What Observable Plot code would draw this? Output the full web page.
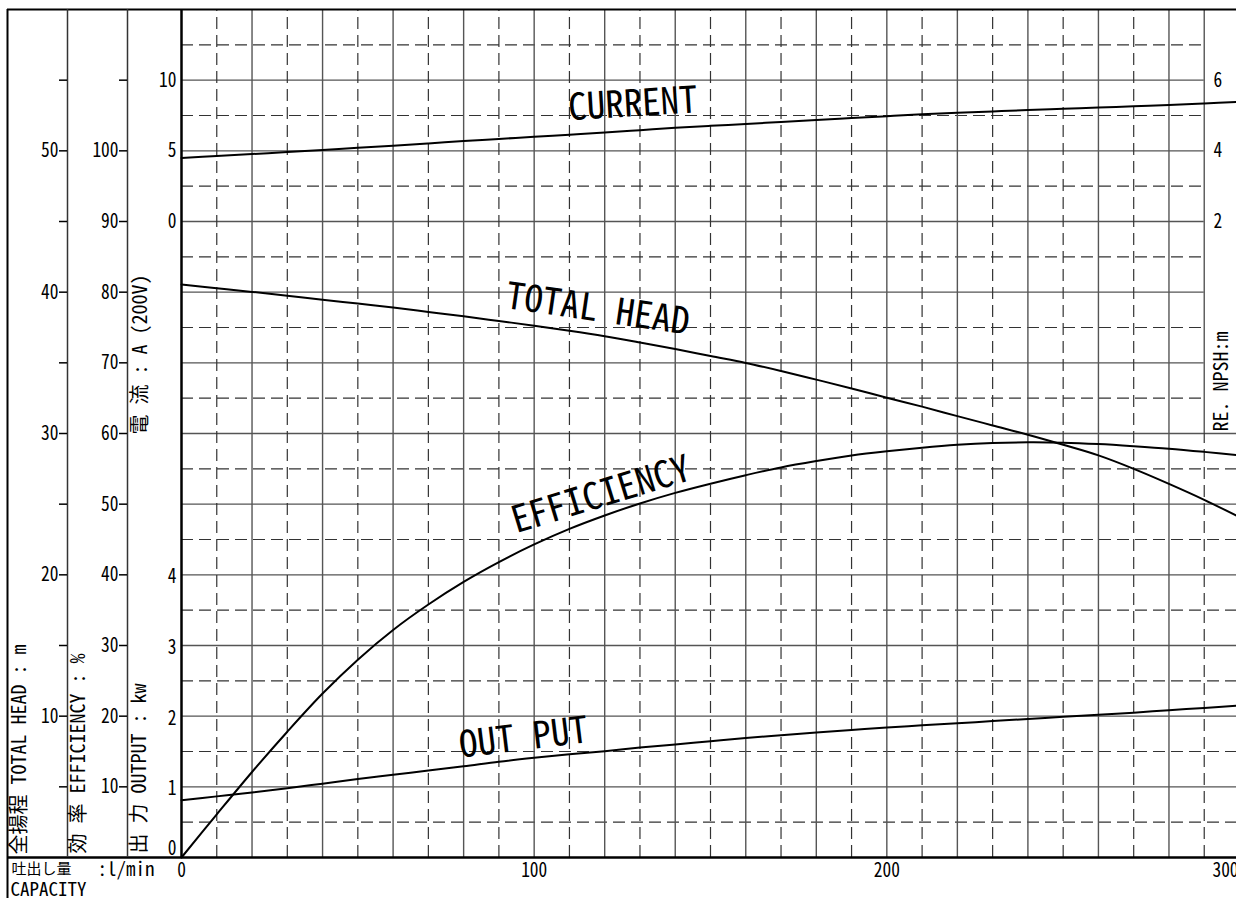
<!DOCTYPE html>
<html><head><meta charset="utf-8">
<script src="https://cdn.jsdelivr.net/npm/d3@7"></script>
<script src="https://cdn.jsdelivr.net/npm/@observablehq/plot@0.6"></script>
<style>
html,body{margin:0;padding:0;background:#fff;overflow:hidden;width:1236px;height:898px;}
#chart{width:1236px;height:898px;overflow:hidden;position:relative;}
</style></head><body><div id="chart"></div>
<script>
// ---------- data ----------
const capacity   = [0,10,20,30,40,50,60,70,80,90,100,110,120,130,140,150,160,170,180,190,200,210,220,230,240,250,260,270,280,290,300];
const totalHead  = [40.54,40.28,40.02,39.74,39.47,39.19,38.91,38.60,38.29,37.96,37.63,37.27,36.88,36.44,35.98,35.48,34.99,34.42,33.81,33.19,32.53,31.90,31.23,30.57,29.91,29.20,28.45,27.50,26.44,25.31,24.08];
const efficiency = [0,6.1,12.1,17.8,23.2,28.0,32.2,35.8,39.0,41.8,44.3,46.5,48.4,50.1,51.6,52.9,54.1,55.2,56.1,56.9,57.5,58.0,58.4,58.65,58.75,58.7,58.5,58.2,57.85,57.4,56.9];
const outputKw   = [0.81,0.865,0.92,0.98,1.045,1.11,1.17,1.23,1.29,1.355,1.41,1.46,1.505,1.555,1.60,1.645,1.69,1.73,1.77,1.805,1.84,1.87,1.90,1.93,1.96,1.99,2.02,2.05,2.085,2.115,2.15];
const currentA   = [4.49,4.63,4.77,4.91,5.06,5.22,5.36,5.52,5.69,5.84,6.0,6.14,6.29,6.46,6.63,6.77,6.9,7.04,7.18,7.32,7.45,7.58,7.69,7.79,7.89,7.97,8.06,8.15,8.24,8.35,8.47];

const headTicks       = [10,20,30,40,50];
const efficiencyTicks = [10,20,30,40,50,60,70,80,90,100];
const outputTicks     = [0,1,2,3,4];
const currentTicks    = [0,5,10];
const npshTicks       = [2,4,6];
const capacityTicks   = [0,100,200,300];

const curveLabelText     = ["CURRENT","TOTAL HEAD","EFFICIENCY","OUT PUT"];
const curveLabelCapacity = [128,118,119,97];
const curveLabelValue    = [8.28,38.77,51.3,1.69];
const curveLabelUnit     = ["cur","head","eff","out"];

const axisTitleText = ["全揚程 TOTAL HEAD : m","効 率 EFFICIENCY : %","出 力 OUTPUT : kw","電 流 : A (200V)","RE. NPSH:m"];
const capacityTitle = ["吐出し量",":l/min","CAPACITY"];

// ---------- layout ----------
const W = 1240, H = 898, ML = 181, MR = 1, MT = 9, MB = 41;
const FONT = '"Noto Sans Mono CJK JP","Noto Sans CJK JP",monospace';
const px2q = px => (px - ML) / (W - ML - MR) * 300;
const py2h = py => (H - MB - py) / (H - MB - MT) * 60;
// every series is drawn on the head (m) scale of the shared y axis
const toY = {head: v => v, eff: v => v / 2, out: v => v * 5, cur: v => 45 + v, npsh: v => 40 + 2.5 * v};
const labelAngle = [-3.5, 8.3, -17, -7];

const series = (vals, f) => capacity.map((q, i) => ({q, v: f(vals[i])}));

const solidH = d3.range(5, 56, 5).map(h => ({y: h, x1: 0, x2: h > 30 ? 290 : 300}));
const dashH  = d3.range(2.5, 60, 5).map(h => ({y: h, x1: 0, x2: h > 30 ? 290 : 300}));
const solidV = d3.range(20, 300, 20).map(q => ({x: q, y1: 0, y2: 60})).concat([{x: 290, y1: 30, y2: 60}]);
const dashV  = d3.range(10, 300, 20).map(q => ({x: q, y1: 0, y2: q === 290 ? 30 : 60}));

const colX = [px2q(7), px2q(67), px2q(127)];

const textOpts = {fontFamily: FONT, fill: "black"};
const tickOpts = {...textOpts, fontSize: 20, label: null, stroke: "black", strokeWidth: 1.5};

const labels = curveLabelText.map((t, i) => ({t, q: curveLabelCapacity[i], v: toY[curveLabelUnit[i]](curveLabelValue[i]), r: labelAngle[i]}));
const titles = [
  {t: axisTitleText[0], q: px2q(19),   v: py2h(854)},
  {t: axisTitleText[1], q: px2q(78),   v: py2h(853)},
  {t: axisTitleText[2], q: px2q(139),  v: py2h(853)},
  {t: axisTitleText[3], q: px2q(140),  v: py2h(434)},
  {t: axisTitleText[4], q: px2q(1221), v: py2h(431)}
];
const bottomTitles = [
  {t: capacityTitle[0], q: px2q(11), v: py2h(869), s: 15},
  {t: capacityTitle[1], q: px2q(97), v: py2h(869), s: 19},
  {t: capacityTitle[2], q: px2q(10), v: py2h(889), s: 19}
];

const chart = Plot.plot({
  width: W, height: H, marginLeft: ML, marginRight: MR, marginTop: MT, marginBottom: MB,
  x: {domain: [0, 300], label: null},
  y: {domain: [0, 60], label: null},
  style: {maxWidth: "none", background: "white", fontFamily: FONT},
  marks: [
    Plot.ruleY(solidH, {y: "y", x1: "x1", x2: "x2", stroke: "#555", strokeWidth: 1.4}),
    Plot.ruleY(dashH,  {y: "y", x1: "x1", x2: "x2", stroke: "#333", strokeWidth: 1.2, strokeDasharray: "12,6"}),
    Plot.ruleX(solidV, {x: "x", y1: "y1", y2: "y2", stroke: "#555", strokeWidth: 1.4}),
    Plot.ruleX(dashV,  {x: "x", y1: "y1", y2: "y2", stroke: "#333", strokeWidth: 1.2, strokeDasharray: "12,6"}),
    // frame
    Plot.ruleY([60], {x1: colX[0], x2: 300, stroke: "black", strokeWidth: 2}),
    Plot.ruleY([0],  {x1: colX[0], x2: 300, stroke: "black", strokeWidth: 2.5}),
    Plot.ruleX([colX[0]], {y1: py2h(898), y2: 60, stroke: "black", strokeWidth: 2}),
    Plot.ruleX([colX[1], colX[2]], {y1: 0, y2: 60, stroke: "#333", strokeWidth: 1.5}),
    Plot.ruleX([0], {y1: 0, y2: 60, stroke: "black", strokeWidth: 2.5}),
    // curves
    Plot.line(series(totalHead, toY.head), {x: "q", y: "v", curve: "catmull-rom", stroke: "black", strokeWidth: 2}),
    Plot.line(series(efficiency, toY.eff), {x: "q", y: "v", curve: "catmull-rom", stroke: "black", strokeWidth: 2}),
    Plot.line(series(outputKw, toY.out),   {x: "q", y: "v", curve: "catmull-rom", stroke: "black", strokeWidth: 2}),
    Plot.line(series(currentA, toY.cur),   {x: "q", y: "v", curve: "catmull-rom", stroke: "black", strokeWidth: 2}),
    // axes
    Plot.axisY(d3.range(5, 56, 5), {...tickOpts, anchor: "left", dx: 67 - ML, tickSize: 8, tickPadding: 1,
      tickFormat: h => headTicks.includes(h) ? String(h) : ""}),
    Plot.axisY(d3.range(5, 56, 5), {...tickOpts, anchor: "left", dx: 127 - ML, tickSize: 8, tickPadding: 1,
      tickFormat: h => efficiencyTicks.includes(h * 2) ? String(h * 2) : ""}),
    Plot.axisY(currentTicks.map(toY.cur), {...tickOpts, anchor: "left", tickSize: 0, tickPadding: 5,
      tickFormat: h => String(Math.round(h - 45))}),
    Plot.axisY(outputTicks.filter(d => d > 0).map(toY.out), {...tickOpts, anchor: "left", tickSize: 0, tickPadding: 5, dy: 2,
      tickFormat: h => String(Math.round(h / 5))}),
    Plot.axisY(outputTicks.filter(d => d === 0).map(toY.out), {...tickOpts, anchor: "left", tickSize: 0, tickPadding: 5, dy: -9,
      tickFormat: h => String(Math.round(h / 5))}),
    Plot.axisY(npshTicks.map(toY.npsh), {...tickOpts, anchor: "right", tickSize: 0, tickPadding: 0, dx: 1213 - (W - MR),
      tickFormat: h => String(Math.round((h - 40) / 2.5))}),
    Plot.axisX(capacityTicks.filter(d => d < 300), {...tickOpts, anchor: "bottom", tickSize: 0, tickPadding: 5}),
    Plot.axisX(capacityTicks.filter(d => d === 300), {...tickOpts, anchor: "bottom", tickSize: 0, tickPadding: 5, dx: -14}),
    // titles
    Plot.text(titles, {x: "q", y: "v", text: "t", rotate: -90, textAnchor: "start", fontSize: 20, ...textOpts}),
    Plot.text(bottomTitles, {x: "q", y: "v", text: "t", fontSize: "s", textAnchor: "start", ...textOpts}),
    // curve labels
    Plot.text(labels, {x: "q", y: "v", text: "t", rotate: "r", fontSize: 37, ariaLabel: "curve labels", ...textOpts})
  ]
});
const sel = d3.select(chart);
sel.selectAll('g[aria-label="curve labels"] text')
  .attr("transform", function() { return (this.getAttribute("transform") || "") + " scale(1,1.2)"; });
sel.selectAll('g[aria-label$="tick label"] text')
  .attr("transform", function() { return (this.getAttribute("transform") || "") + " scale(0.87,1)"; });
document.getElementById("chart").appendChild(chart);
</script></body></html>
